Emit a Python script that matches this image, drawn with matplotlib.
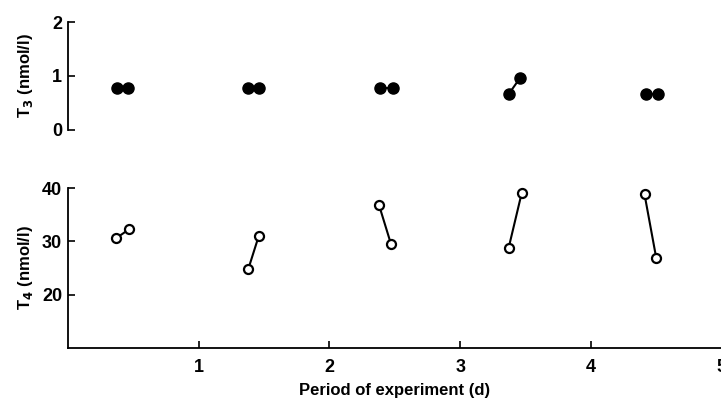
import matplotlib
matplotlib.use("Agg")
import matplotlib.pyplot as plt

# paired measurements per day (two samples each)
t3_x = [[0.38, 0.46], [1.38, 1.46], [2.39, 2.49], [3.37, 3.46], [4.42, 4.51]]
t3_y = [[0.78, 0.78], [0.78, 0.78], [0.78, 0.78], [0.66, 0.97], [0.67, 0.67]]
t4_x = [[0.37, 0.47], [1.38, 1.46], [2.38, 2.47], [3.37, 3.47], [4.41, 4.50]]
t4_y = [[30.6, 32.3], [24.8, 31.0], [36.8, 29.6], [28.7, 39.0], [38.8, 26.8]]

x_ticks = [1, 2, 3, 4, 5]
t3_ticks = [0, 1, 2]
t4_ticks = [20, 30, 40]

plt.rcParams['font.family'] = ['Liberation Sans', 'DejaVu Sans']
plt.rcParams['font.weight'] = 'bold'

fig = plt.figure(figsize=(7.21, 4.01), dpi=100)
ax1 = fig.add_axes([0.094, 0.676, 0.907, 0.269])
ax2 = fig.add_axes([0.094, 0.132, 0.907, 0.399])

for xs, ys in zip(t3_x, t3_y):
    ax1.plot(xs, ys, '-o', color='black', lw=1.5, ms=8, clip_on=False)
for xs, ys in zip(t4_x, t4_y):
    ax2.plot(xs, ys, '-o', color='black', lw=1.5, ms=6.5, mfc='white',
             mew=1.6, clip_on=False)

ax1.set_xlim(0, 5)
ax1.set_ylim(0, 2)
ax1.set_yticks(t3_ticks)
ax1.set_xticks([])
for s in ['top', 'right', 'bottom']:
    ax1.spines[s].set_visible(False)
ax1.set_ylabel('T$_3$ (nmol/l)', fontweight='bold', fontsize=12)
ax1.yaxis.set_label_coords(-0.05, 0.5)

ax2.set_xlim(0, 5)
ax2.set_ylim(10, 40)
ax2.set_yticks(t4_ticks)
ax2.set_xticks(x_ticks)
for s in ['top', 'right']:
    ax2.spines[s].set_visible(False)
ax2.set_ylabel('T$_4$ (nmol/l)', fontweight='bold', fontsize=12)
ax2.yaxis.set_label_coords(-0.05, 0.5)
ax2.set_xlabel('Period of experiment (d)', fontweight='bold', fontsize=12,
               labelpad=5)

for ax in (ax1, ax2):
    for s in ax.spines.values():
        s.set_linewidth(1.3)
    ax.tick_params(direction='in', length=5, width=1.2, labelsize=13)
    ax.tick_params(axis='y', pad=4)
    ax.tick_params(axis='x', pad=8)
    ax.patch.set_alpha(0)

fig.savefig('out.png', dpi=100)
